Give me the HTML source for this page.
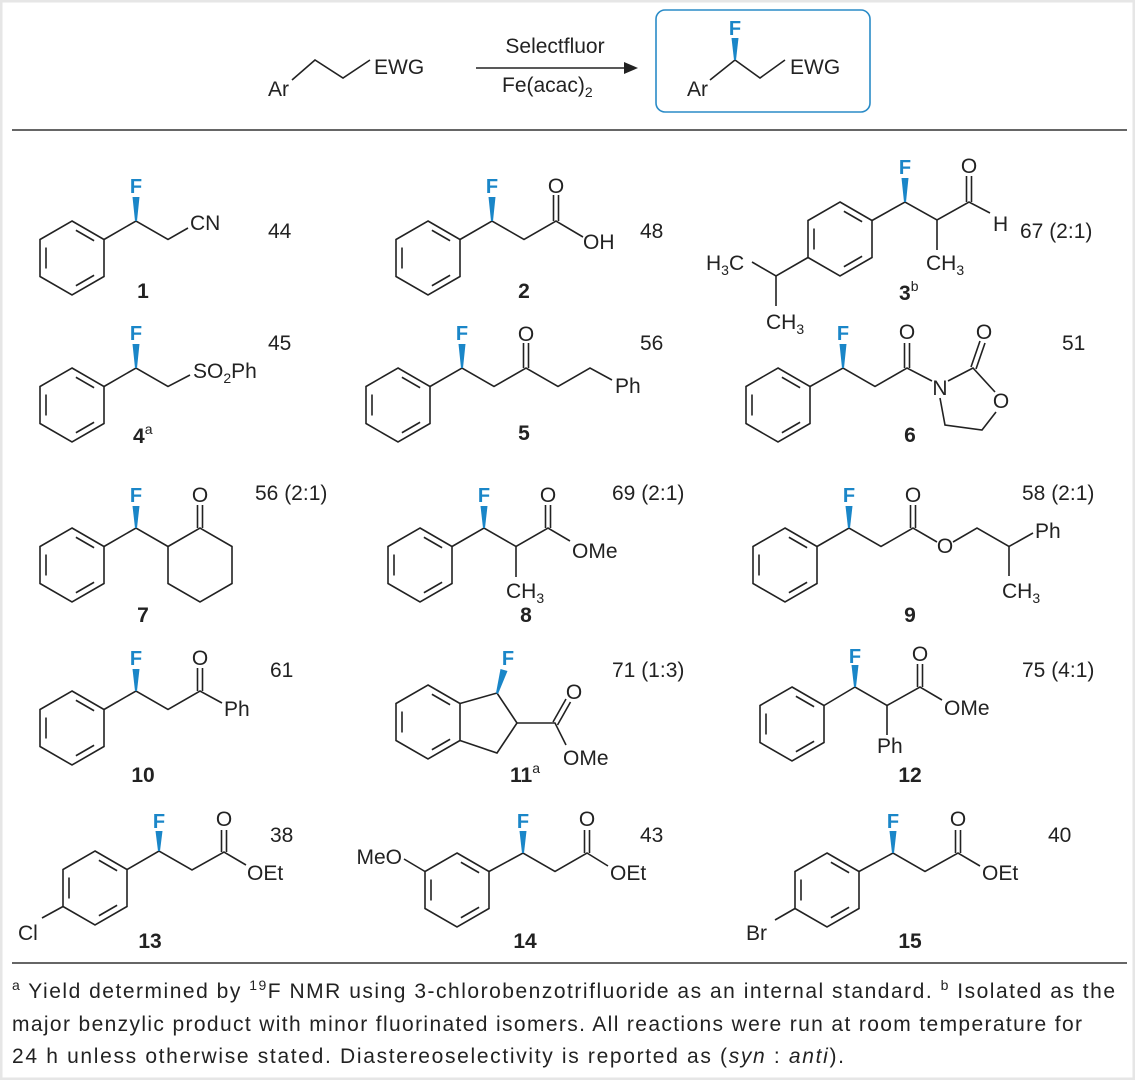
<!DOCTYPE html>
<html><head><meta charset="utf-8"><style>
html,body{margin:0;padding:0;background:#fff;}
svg{display:block;}
text{font-family:"Liberation Sans",sans-serif;fill:#222;}
.a{font-size:21px;}
.y{font-size:21px;}
.l{font-size:21px;font-weight:bold;}
.f{font-size:20px;fill:#1a86c8;font-weight:bold;}
.fn{font-size:21px;}
</style></head><body>
<svg width="1135" height="1080" viewBox="0 0 1135 1080" xmlns="http://www.w3.org/2000/svg">
<defs>
<g id="bz" fill="none" stroke="#222" stroke-width="1.6">
<polygon points="0,-37 32,-18.5 32,18.5 0,37 -32,18.5 -32,-18.5"/>
<line x1="3.9" y1="-27.75" x2="22.1" y2="-17.25"/>
<line x1="22.1" y1="17.25" x2="3.9" y2="27.75"/>
<line x1="-26" y1="10.5" x2="-26" y2="-10.5"/>
</g>
</defs>
<rect x="0" y="0" width="1135" height="1080" fill="#fff"/>
<rect x="1" y="1" width="1133" height="1078" fill="none" stroke="#e6e6e6" stroke-width="3"/>

<!-- header -->
<g fill="none" stroke="#222" stroke-width="1.6">
<polyline points="292,80 315,60 343,78 370,60"/>
<line x1="476" y1="68" x2="628" y2="68"/>
<polyline points="710,80 735,60 760,78 785,60"/>
</g>
<polygon points="638,68 624,62 624,74" fill="#222"/>
<text class="a" x="268" y="96">Ar</text>
<text class="a" x="374" y="74">EWG</text>
<text class="a" x="555" y="53" text-anchor="middle">Selectfluor</text>
<text class="a" x="502" y="92">Fe(acac)<tspan font-size="14" dy="5">2</tspan></text>
<rect x="656" y="10" width="214" height="102" rx="9" fill="none" stroke="#2a8bc7" stroke-width="1.6"/>
<polygon points="734,60 731.5,38 738.5,38 736,60" fill="#1a86c8"/>
<text class="f" x="735" y="35" text-anchor="middle">F</text>
<text class="a" x="687" y="96">Ar</text>
<text class="a" x="790" y="74">EWG</text>
<line x1="12" y1="130" x2="1127" y2="130" stroke="#333" stroke-width="1.6"/>

<g fill="none" stroke="#222" stroke-width="1.6">
<polyline points="104,239.5 136,221 168,239.5 188,228"/>
<polyline points="460,239.5 492,221 524,239.5 556,221 583,237"/>
<line x1="553.5" y1="221" x2="553.5" y2="195"/><line x1="558.5" y1="221" x2="558.5" y2="195"/>
<polyline points="872,220.5 905,202 937,220 969,202 990,213"/>
<line x1="937" y1="220" x2="937" y2="250"/>
<line x1="966.5" y1="202" x2="966.5" y2="176"/><line x1="971.5" y1="202" x2="971.5" y2="176"/>
<polyline points="808,257.5 776,276 752,262"/>
<line x1="776" y1="276" x2="776" y2="306"/>
<polyline points="104,386.5 136,368 168,386.5 190,375"/>
<polyline points="430,386.5 462,368 494,386.5 526,368 558,386.5 590,368 612,380"/>
<line x1="523.5" y1="368" x2="523.5" y2="343"/><line x1="528.5" y1="368" x2="528.5" y2="343"/>
<polyline points="810,386.5 843,368 875,386.5 907,368 932,381"/>
<line x1="904.5" y1="368" x2="904.5" y2="343"/><line x1="909.5" y1="368" x2="909.5" y2="343"/>
<polyline points="948,381 973,368 995,392"/>
<line x1="971" y1="367" x2="980" y2="341"/><line x1="976" y1="369" x2="985" y2="343"/>
<polyline points="996,412 982,430 945,425 940,398"/>
<polyline points="104,546.5 136,528 168,546.5"/>
<polygon points="168,546.5 200,528 232,546.5 232,583.5 200,602 168,583.5"/>
<line x1="197.5" y1="528" x2="197.5" y2="505"/><line x1="202.5" y1="528" x2="202.5" y2="505"/>
<polyline points="452,546.5 484,528 516,546.5 548,528 570,541"/>
<line x1="516" y1="546.5" x2="516" y2="577"/>
<line x1="545.5" y1="528" x2="545.5" y2="505"/><line x1="550.5" y1="528" x2="550.5" y2="505"/>
<polyline points="817,546.5 849,528 881,546.5 913,528 937,542"/>
<line x1="910.5" y1="528" x2="910.5" y2="505"/><line x1="915.5" y1="528" x2="915.5" y2="505"/>
<polyline points="953,542 977,528 1009,546.5 1033,533"/>
<line x1="1009" y1="546.5" x2="1009" y2="576"/>
<polyline points="104,709.5 136,691 168,709.5 200,691 222,703"/>
<line x1="197.5" y1="691" x2="197.5" y2="668"/><line x1="202.5" y1="691" x2="202.5" y2="668"/>
<polyline points="460,703.5 497,693 517,723 497,753 460,740.5"/>
<polyline points="517,723 555,723 566,745"/>
<line x1="553" y1="722" x2="566" y2="699"/><line x1="557.5" y1="725" x2="570.5" y2="702"/>
<polyline points="824,705.5 855,687 887,705.5 920,687 942,700"/>
<line x1="887" y1="705.5" x2="887" y2="735"/>
<line x1="917.5" y1="687" x2="917.5" y2="664"/><line x1="922.5" y1="687" x2="922.5" y2="664"/>
<polyline points="127,869.5 159,851 192,870 224,852 246,865"/>
<line x1="221.5" y1="852" x2="221.5" y2="830"/><line x1="226.5" y1="852" x2="226.5" y2="830"/>
<line x1="63" y1="906.5" x2="42" y2="918"/>
<polyline points="489,871.5 523,853 555,871.5 587,853 608,866"/>
<line x1="584.5" y1="853" x2="584.5" y2="830"/><line x1="589.5" y1="853" x2="589.5" y2="830"/>
<line x1="425" y1="871.5" x2="404" y2="859"/>
<polyline points="859,871.5 893,853 925,871.5 958,853 980,866"/>
<line x1="955.5" y1="853" x2="955.5" y2="830"/><line x1="960.5" y1="853" x2="960.5" y2="830"/>
<line x1="795" y1="908.5" x2="775" y2="920"/>
</g>

<use href="#bz" x="72" y="258"/>
<use href="#bz" x="428" y="258"/>
<use href="#bz" x="840" y="239"/>
<use href="#bz" x="72" y="405"/>
<use href="#bz" x="398" y="405"/>
<use href="#bz" x="778" y="405"/>
<use href="#bz" x="72" y="565"/>
<use href="#bz" x="420" y="565"/>
<use href="#bz" x="785" y="565"/>
<use href="#bz" x="72" y="728"/>
<use href="#bz" x="428" y="722"/>
<use href="#bz" x="792" y="724"/>
<use href="#bz" x="95" y="888"/>
<use href="#bz" x="457" y="890"/>
<use href="#bz" x="827" y="890"/>

<g fill="#1a86c8">
<polygon points="135,221 132.5,197 139.5,197 137,221"/>
<polygon points="491,221 488.5,197 495.5,197 493,221"/>
<polygon points="904,202 901.5,178 908.5,178 906,202"/>
<polygon points="135,368 132.5,344 139.5,344 137,368"/>
<polygon points="461,368 458.5,344 465.5,344 463,368"/>
<polygon points="842,368 839.5,344 846.5,344 844,368"/>
<polygon points="135,528 132.5,506 139.5,506 137,528"/>
<polygon points="483,528 480.5,506 487.5,506 485,528"/>
<polygon points="848,528 845.5,506 852.5,506 850,528"/>
<polygon points="135,691 132.5,669 139.5,669 137,691"/>
<polygon points="496,693 500.5,669 507.5,671 498,694"/>
<polygon points="854,687 851.5,665 858.5,665 856,687"/>
<polygon points="158,851 155.5,831 162.5,831 160,851"/>
<polygon points="522,853 519.5,831 526.5,831 524,853"/>
<polygon points="892,853 889.5,831 896.5,831 894,853"/>
</g>
<g>
<text class="f" x="136" y="193" text-anchor="middle">F</text>
<text class="f" x="492" y="193" text-anchor="middle">F</text>
<text class="f" x="905" y="174" text-anchor="middle">F</text>
<text class="f" x="136" y="340" text-anchor="middle" font-weight="normal">F</text>
<text class="f" x="462" y="340" text-anchor="middle">F</text>
<text class="f" x="843" y="340" text-anchor="middle" font-weight="normal">F</text>
<text class="f" x="136" y="502" text-anchor="middle">F</text>
<text class="f" x="484" y="502" text-anchor="middle">F</text>
<text class="f" x="849" y="502" text-anchor="middle">F</text>
<text class="f" x="136" y="665" text-anchor="middle">F</text>
<text class="f" x="508" y="665" text-anchor="middle">F</text>
<text class="f" x="855" y="663" text-anchor="middle">F</text>
<text class="f" x="159" y="828" text-anchor="middle">F</text>
<text class="f" x="523" y="828" text-anchor="middle">F</text>
<text class="f" x="893" y="828" text-anchor="middle">F</text>
</g>

<text class="a" x="190" y="230">CN</text>
<text class="a" x="556" y="193" text-anchor="middle">O</text>
<text class="a" x="583" y="249">OH</text>
<text class="a" x="969" y="173" text-anchor="middle">O</text>
<text class="a" x="993" y="231">H</text>
<text class="a" x="926" y="270">CH<tspan font-size="14" dy="5">3</tspan></text>
<text class="a" x="706" y="270">H<tspan font-size="14" dy="5">3</tspan><tspan dy="-5">C</tspan></text>
<text class="a" x="766" y="329">CH<tspan font-size="14" dy="5">3</tspan></text>
<text class="a" x="193" y="378">SO<tspan font-size="14" dy="5">2</tspan><tspan dy="-5">Ph</tspan></text>
<text class="a" x="526" y="341" text-anchor="middle">O</text>
<text class="a" x="615" y="393">Ph</text>
<text class="a" x="907" y="339" text-anchor="middle">O</text>
<text class="a" x="940" y="395" text-anchor="middle">N</text>
<text class="a" x="984" y="339" text-anchor="middle">O</text>
<text class="a" x="1001" y="408" text-anchor="middle">O</text>
<text class="a" x="200" y="502" text-anchor="middle">O</text>
<text class="a" x="548" y="502" text-anchor="middle">O</text>
<text class="a" x="572" y="558">OMe</text>
<text class="a" x="506" y="598">CH<tspan font-size="14" dy="5">3</tspan></text>
<text class="a" x="913" y="502" text-anchor="middle">O</text>
<text class="a" x="945" y="553" text-anchor="middle">O</text>
<text class="a" x="1035" y="538">Ph</text>
<text class="a" x="1002" y="598">CH<tspan font-size="14" dy="5">3</tspan></text>
<text class="a" x="200" y="665" text-anchor="middle">O</text>
<text class="a" x="224" y="716">Ph</text>
<text class="a" x="574" y="699" text-anchor="middle">O</text>
<text class="a" x="563" y="765">OMe</text>
<text class="a" x="920" y="661" text-anchor="middle">O</text>
<text class="a" x="944" y="715">OMe</text>
<text class="a" x="877" y="753">Ph</text>
<text class="a" x="224" y="826" text-anchor="middle">O</text>
<text class="a" x="247" y="880">OEt</text>
<text class="a" x="18" y="940">Cl</text>
<text class="a" x="587" y="826" text-anchor="middle">O</text>
<text class="a" x="610" y="880">OEt</text>
<text class="a" x="402" y="864" text-anchor="end">MeO</text>
<text class="a" x="958" y="826" text-anchor="middle">O</text>
<text class="a" x="982" y="880">OEt</text>
<text class="a" x="746" y="940">Br</text>

<text class="y" x="268" y="238">44</text>
<text class="y" x="640" y="238">48</text>
<text class="y" x="1020" y="238">67 (2:1)</text>
<text class="y" x="268" y="350">45</text>
<text class="y" x="640" y="350">56</text>
<text class="y" x="1062" y="350">51</text>
<text class="y" x="255" y="500">56 (2:1)</text>
<text class="y" x="612" y="500">69 (2:1)</text>
<text class="y" x="1022" y="500">58 (2:1)</text>
<text class="y" x="270" y="677">61</text>
<text class="y" x="612" y="677">71 (1:3)</text>
<text class="y" x="1022" y="677">75 (4:1)</text>
<text class="y" x="270" y="842">38</text>
<text class="y" x="640" y="842">43</text>
<text class="y" x="1048" y="842">40</text>

<text class="l" x="143" y="298" text-anchor="middle">1</text>
<text class="l" x="524" y="298" text-anchor="middle">2</text>
<text class="l" x="899" y="300">3<tspan font-size="14" font-weight="normal" dy="-9">b</tspan></text>
<text class="l" x="133" y="443">4<tspan font-size="14" font-weight="normal" dy="-9">a</tspan></text>
<text class="l" x="524" y="440" text-anchor="middle">5</text>
<text class="l" x="910" y="442" text-anchor="middle">6</text>
<text class="l" x="143" y="622" text-anchor="middle">7</text>
<text class="l" x="526" y="622" text-anchor="middle">8</text>
<text class="l" x="910" y="622" text-anchor="middle">9</text>
<text class="l" x="143" y="782" text-anchor="middle">10</text>
<text class="l" x="510" y="782">11<tspan font-size="14" font-weight="normal" dy="-9">a</tspan></text>
<text class="l" x="910" y="782" text-anchor="middle">12</text>
<text class="l" x="150" y="948" text-anchor="middle">13</text>
<text class="l" x="525" y="948" text-anchor="middle">14</text>
<text class="l" x="910" y="948" text-anchor="middle">15</text>

<line x1="12" y1="963" x2="1127" y2="963" stroke="#333" stroke-width="1.6"/>
<text class="fn" x="12" y="998" textLength="1103" lengthAdjust="spacing"><tspan font-size="14" dy="-8">a</tspan><tspan dy="8"> Yield determined by </tspan><tspan font-size="14" dy="-8">19</tspan><tspan dy="8">F NMR using 3-chlorobenzotrifluoride as an internal standard.  </tspan><tspan font-size="14" dy="-8">b</tspan><tspan dy="8"> Isolated as the</tspan></text>
<text class="fn" x="12" y="1031" textLength="1070" lengthAdjust="spacing">major benzylic product with minor fluorinated isomers.  All reactions were run at room temperature for</text>
<text class="fn" x="12" y="1063" textLength="832" lengthAdjust="spacing">24 h unless otherwise stated.  Diastereoselectivity is reported as (<tspan font-style="italic">syn</tspan> : <tspan font-style="italic">anti</tspan>).</text>
</svg>
</body></html>
